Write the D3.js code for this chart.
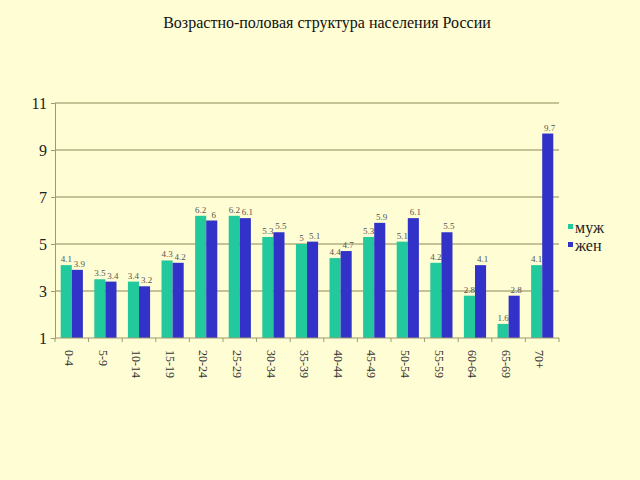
<!DOCTYPE html>
<html><head><meta charset="utf-8">
<script src="https://cdn.jsdelivr.net/npm/d3@7"></script>
<style>body{margin:0;background:#fffdd3;} svg{display:block;}</style>
</head><body>
<svg id="c" width="640" height="480"></svg>
<script>
const categories = ["0-4","5-9","10-14","15-19","20-24","25-29","30-34","35-39","40-44","45-49","50-54","55-59","60-64","65-69","70+"];
const male = [4.1,3.5,3.4,4.3,6.2,6.2,5.3,5,4.4,5.3,5.1,4.2,2.8,1.6,4.1];
const female = [3.9,3.4,3.2,4.2,6,6.1,5.5,5.1,4.7,5.9,6.1,5.5,4.1,2.8,9.7];
const seriesNames = ["муж","жен"];
const yTicks = [1,3,5,7,9,11];
const title = "Возрастно-половая структура населения России";

const svg = d3.select("#c");
svg.append("rect").attr("width",640).attr("height",480).attr("fill","#fffdd3");
const L=55, R=559, T=103, B=338;
const x = d3.scaleBand().domain(categories).range([L,R]).paddingInner(0.34).paddingOuter(0.17);
const xs = d3.scaleBand().domain(seriesNames).range([0,x.bandwidth()]);
const y = d3.scaleLinear().domain([1,11]).range([B,T]);
const colors = ["#22c99c","#3232c8"];
const font = "'Liberation Serif','Times New Roman',serif";

svg.append("text").attr("x",327).attr("y",28).attr("text-anchor","middle")
  .attr("font-family",font).attr("font-size",16).attr("fill","#111").text(title);

// grid
svg.append("g").selectAll("line").data(yTicks.slice(1)).join("line")
  .attr("x1",L).attr("x2",R).attr("y1",d=>y(d)).attr("y2",d=>y(d))
  .attr("stroke","#8c8a5a").attr("stroke-width",1.2);

// y axis
const ya = svg.append("g").attr("transform",`translate(${L},0)`)
  .call(d3.axisLeft(y).tickValues(yTicks).tickSize(4).tickPadding(4).tickFormat(d3.format("d")));
ya.select(".domain").attr("stroke","#9c9a70");
ya.selectAll(".tick line").attr("stroke","#9c9a70");
ya.selectAll("text").attr("font-family",font).attr("font-size",16).attr("fill","#222");

// bars
const data = categories.map((c,i)=>({c, v:[male[i],female[i]]}));
const g = svg.append("g");
const grp = g.selectAll("g").data(data).join("g").attr("transform",d=>`translate(${x(d.c)},0)`);
grp.selectAll("rect").data(d=>d.v.map((v,j)=>({v,s:seriesNames[j],j}))).join("rect")
  .attr("x",d=>xs(d.s)).attr("width",xs.bandwidth()).attr("y",d=>y(d.v)).attr("height",d=>B-y(d.v))
  .attr("fill",d=>colors[d.j]);
grp.selectAll("text").data(d=>d.v.map((v,j)=>({v,s:seriesNames[j],j}))).join("text")
  .attr("x",d=>xs(d.s)+xs.bandwidth()/2+(d.j?2:0)).attr("y",d=>y(d.v)-3).attr("text-anchor","middle")
  .attr("font-family",font).attr("font-size",9).attr("fill","#555").text(d=>d.v);

// x axis
const xa = svg.append("g").attr("transform",`translate(0,${B})`);
xa.append("line").attr("x1",L).attr("x2",R).attr("stroke","#9c9a70").attr("stroke-width",1.2);
const step = (R-L)/categories.length;
xa.selectAll("line.t").data(d3.range(categories.length+1)).join("line").attr("class","t")
  .attr("x1",i=>L+i*step).attr("x2",i=>L+i*step).attr("y1",0).attr("y2",4).attr("stroke","#9c9a70");
xa.selectAll("text").data(categories).join("text")
  .attr("transform",d=>`translate(${x(d)+x.bandwidth()/2-4},${12}) rotate(90)`)
  .attr("font-family",font).attr("font-size",12).attr("fill","#333").attr("dominant-baseline","middle").text(d=>d);

// legend
const lg = svg.append("g").attr("transform","translate(568,230)");
seriesNames.forEach((s,i)=>{
  lg.append("rect").attr("x",0).attr("y",i*18-6).attr("width",5).attr("height",5).attr("fill",colors[i]);
  lg.append("text").attr("x",7).attr("y",i*18+3).attr("font-family",font).attr("font-size",16).attr("fill","#222").text(s);
});
</script>
</body></html>
